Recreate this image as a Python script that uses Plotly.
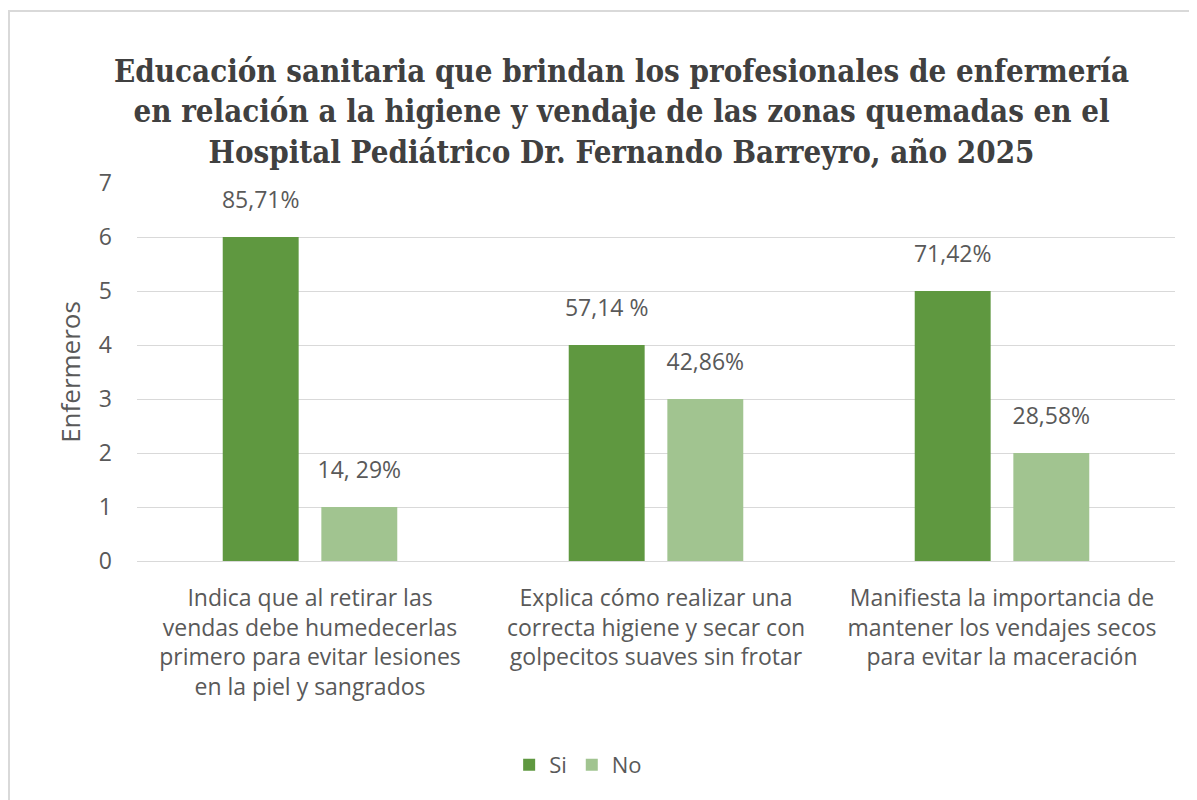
import plotly.graph_objects as go

categories = [
    "Indica que al retirar las<br>vendas debe humedecerlas<br>primero para evitar lesiones<br>en la piel y sangrados",
    "Explica cómo realizar una<br>correcta higiene y secar con<br>golpecitos suaves sin frotar",
    "Manifiesta la importancia de<br>mantener los vendajes secos<br>para evitar la maceración",
]
si_values = [6, 4, 5]
no_values = [1, 3, 2]
si_labels = ["85,71%", "57,14 %", "71,42%"]
no_labels = ["14, 29%", "42,86%", "28,58%"]
y_ticks = [0, 1, 2, 3, 4, 5, 6, 7]

title_text = ("Educación sanitaria que brindan los profesionales de enfermería<br>"
              "en relación a la higiene y vendaje de las zonas quemadas en el<br>"
              "Hospital Pediátrico Dr. Fernando Barreyro, año 2025")

FAM = "Open Sans, Lato, sans-serif"
GRAY = "#595959"


def bar_text(labels):
    return ["<span style='font-size:23px'>" + t + "</span><br> " for t in labels]


W, H = 1189, 792
L, T, PW, PH = 129, 175, 1038, 378
R = W - L - PW
B = H - T - PH

fig = go.Figure()
fig.add_trace(go.Bar(
    name="Si", x=categories, y=si_values,
    marker=dict(color="#5F9840", line=dict(width=0)),
    text=bar_text(si_labels), textposition="outside",
    textfont=dict(family=FAM, size=16, color=GRAY), cliponaxis=False, constraintext="none",
))
fig.add_trace(go.Bar(
    name="No", x=categories, y=no_values,
    marker=dict(color="#A1C490", line=dict(width=0)),
    text=bar_text(no_labels), textposition="outside",
    textfont=dict(family=FAM, size=16, color=GRAY), cliponaxis=False, constraintext="none",
))

fig.update_layout(
    width=W, height=H,
    barmode="group", bargap=0.43, bargroupgap=0.23,
    paper_bgcolor="white", plot_bgcolor="white",
    margin=dict(l=L, r=R, t=T, b=B, autoexpand=False),
    title=dict(text="<b>" + title_text + "</b>", x=0.516, xanchor="center",
               yref="container", y=1 - 74 / H, yanchor="top",
               font=dict(family="DejaVu Serif Condensed, DejaVu Serif, serif", size=31, color="#404040")),
    font=dict(family=FAM, size=23, color=GRAY),
    showlegend=True,
    legend=dict(orientation="h", x=0.425, xanchor="center", y=(T + PH - 757) / PH, yanchor="middle",
                font=dict(family=FAM, size=22, color=GRAY),
                itemwidth=30, traceorder="normal"),
)
fig.update_xaxes(showgrid=False, showline=True, linecolor="#D9D9D9", linewidth=1,
                 ticks="", ticklabelstandoff=16,
                 tickfont=dict(family=FAM, size=23, color=GRAY))
fig.update_yaxes(range=[0, 7], tickvals=y_ticks, showgrid=True, gridcolor="#D9D9D9",
                 gridwidth=1, zeroline=False, showline=False, ticks="",
                 ticklabelstandoff=24,
                 tickfont=dict(family=FAM, size=23, color=GRAY),
                 title=dict(text="Enfermeros", standoff=10,
                            font=dict(family=FAM, size=26, color=GRAY)))

fig.add_shape(type="rect", xref="paper", yref="paper",
              x0=(1 - L) / PW, x1=1.06, y0=-0.7, y1=(T + PH - 3) / PH,
              line=dict(color="#D9D9D9", width=2), fillcolor="rgba(0,0,0,0)", layer="below")

fig.write_html("out.html")
